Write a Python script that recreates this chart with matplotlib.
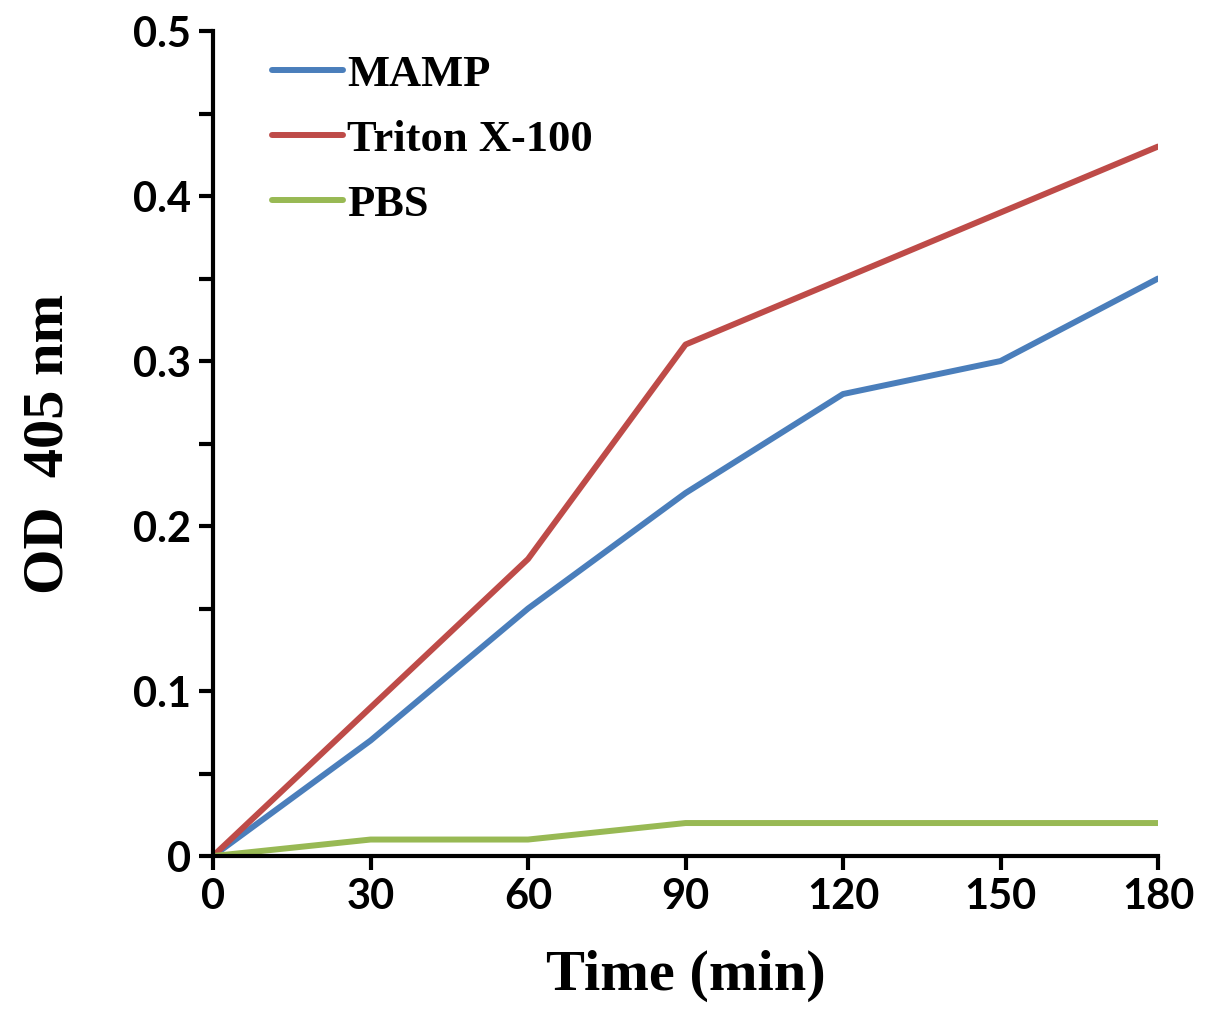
import matplotlib
matplotlib.use("Agg")
import matplotlib.pyplot as plt

# data
time_min = [0, 30, 60, 90, 120, 150, 180]
mamp = [0, 0.07, 0.15, 0.22, 0.28, 0.30, 0.35]
triton = [0, 0.09, 0.18, 0.31, 0.35, 0.39, 0.43]
pbs = [0, 0.01, 0.01, 0.02, 0.02, 0.02, 0.02]

series_names = ["MAMP", "Triton X-100", "PBS"]
series_colors = ["#4a7ebb", "#be4b48", "#98b954"]
y_ticks = [0, 0.1, 0.2, 0.3, 0.4, 0.5]
y_ticklabels = ["0", "0.1", "0.2", "0.3", "0.4", "0.5"]
y_minor = [0.05, 0.15, 0.25, 0.35, 0.45]

fig = plt.figure(figsize=(12.05, 10.18), dpi=100)
ax = fig.add_axes([0.1768, 0.1591, 0.7842, 0.8104])

for vals, name, col in zip([mamp, triton, pbs], series_names, series_colors):
    ax.plot(time_min, vals, color=col, lw=4.3, label=name, solid_capstyle="round")

ax.set_xlim(0, 180)
ax.set_ylim(0, 0.5)
ax.set_xticks(time_min)
ax.set_yticks(y_ticks)
ax.set_yticklabels(y_ticklabels)
ax.set_yticks(y_minor, minor=True)

for s in ["top", "right"]:
    ax.spines[s].set_visible(False)
for s in ["left", "bottom"]:
    ax.spines[s].set_linewidth(3)

ax.tick_params(axis="both", which="both", direction="out", width=3, length=10)
ax.tick_params(axis="both", pad=6)
for lab in ax.get_xticklabels() + ax.get_yticklabels():
    lab.set_fontfamily("Lato")
    lab.set_fontweight("bold")
    lab.set_fontsize(30)

ax.set_xlabel("Time (min)", fontfamily="Liberation Serif", fontweight="bold",
              fontsize=42, labelpad=24)
ax.set_ylabel("OD  405 nm", fontfamily="Liberation Serif", fontweight="bold",
              fontsize=42, labelpad=42)

leg = ax.legend(loc="upper left", bbox_to_anchor=(0.02, 1.02), frameon=False,
                prop={"family": "Liberation Serif", "weight": "bold", "size": 32},
                handlelength=1.6, handletextpad=0.1, labelspacing=0.56)

fig.savefig("out.png", dpi=100)
